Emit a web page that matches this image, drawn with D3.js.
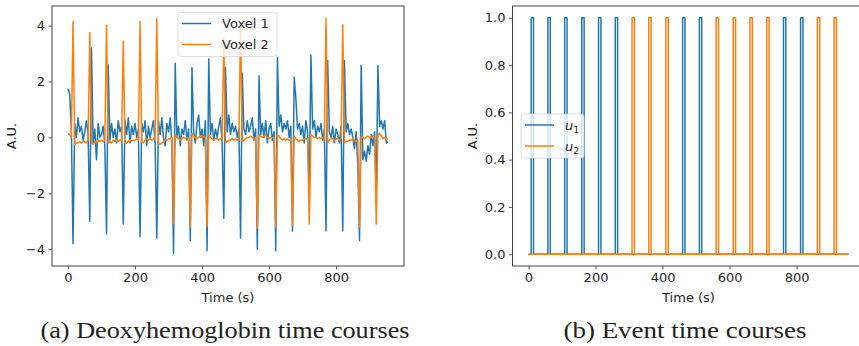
<!DOCTYPE html>
<html>
<head>
<meta charset="utf-8">
<script src="https://cdn.jsdelivr.net/npm/d3@7"></script>
<style>
  body { margin: 0; background: #fff; }
  svg text { font-family: "DejaVu Sans", sans-serif; fill: #262626; }
</style>
</head>
<body>
<svg id="fig" width="859" height="346"></svg>
<script>
// sampled every 5 s, t = 0 .. 955
const sampleStep = 5;
const voxel1 = [
  1.75, 1.55, 0.3, -3.8, 0.5, 0.0, 0.7, 0.2, 0.4, -0.1,
  0.2, 0.6, 0.1, -3.0, 3.2, -0.2, 0.3, -0.8, 0.5, 0.0,
  0.1, 0.4, -0.3, -3.45, 2.6, -0.1, 0.5, 0.0, 0.3, -0.2,
  0.6, 0.2, 0.4, -3.1, 0.6, 0.1, 0.7, -0.2, 0.4, 0.1,
  0.5, 0.0, 0.3, -3.55, 0.5, 0.2, 0.6, -0.3, 0.4, 0.0,
  0.3, 0.6, -0.2, -3.6, 0.6, 0.1, 0.7, 0.0, -0.3, 0.5,
  0.2, 0.7, -0.2, -4.15, 2.65, 0.0, 0.4, -0.3, 0.3, 0.1,
  0.6, -0.1, 0.3, -3.7, 2.5, 0.2, -0.2, 0.5, 0.8, 0.0,
  0.3, -0.3, 0.6, -4.05, 2.8, 0.1, 0.5, -0.1, 0.3, 0.0,
  0.4, 0.7, -0.2, -2.9, 2.5, 0.2, 0.8, 0.1, 0.5, 0.2,
  0.4, 0.0, 0.3, -3.6, 2.3, 0.3, 0.1, 0.6, 0.2, 0.4,
  0.7, -0.1, 0.3, -4.0, 2.2, 0.1, 0.5, 0.0, 0.6, -0.2,
  0.3, 0.5, -0.1, 0.2, -4.05, 2.85, 0.4, 0.8, 0.2, 0.5,
  0.3, 0.6, 0.0, 0.4, -3.35, 2.15, 1.4, 0.3, 0.5, 0.1,
  0.4, -0.2, 0.6, 0.2, -2.0, 2.95, 0.3, 0.6, 0.0, 0.4,
  0.2, 0.5, -0.1, 0.3, -3.35, 2.75, 0.2, 0.0, 0.4, -0.2,
  0.3, 0.1, -0.2, 0.4, -3.35, 2.75, 0.2, 0.5, 0.1, 0.3,
  0.0, -0.4, 0.2, -1.05, -3.7, 2.58, -0.8, -0.5, -0.85, -0.3,
  -0.6, 0.1, -0.3, 0.2, -2.0, 2.56, 0.4, 0.6, 0.3, 0.6,
  -0.2, -0.15
];
const voxel2 = [
  0.15, 0.1, 0.0, 4.15, -0.25, -0.2, -0.2, -0.15, -0.2, -0.15,
  -0.15, -0.2, -0.1, 3.75, -0.2, -0.25, -0.15, -0.2, -0.1, -0.15,
  -0.1, -0.15, -0.1, 4.0, -0.2, -0.15, -0.2, -0.1, -0.15, -0.1,
  -0.15, -0.1, -0.1, 3.45, -0.2, -0.2, -0.15, -0.1, -0.12, -0.1,
  -0.1, -0.05, -0.1, 4.15, -0.15, -0.2, -0.1, -0.05, -0.1, -0.05,
  -0.1, -0.05, -0.05, 4.25, -0.2, -0.25, -0.2, -0.15, -0.1, -0.1,
  -0.05, -0.05, 0.0, -3.1, 0.1, 0.05, -0.05, -0.1, -0.05, 0.0,
  -0.05, 0.0, -0.05, -3.2, 0.15, 0.05, 0.0, -0.05, 0.0, 0.05,
  0.0, 0.05, 0.0, -3.2, 0.1, 0.0, -0.05, -0.1, -0.05, -0.05,
  -0.1, -0.05, 0.0, 3.55, -0.2, -0.15, -0.1, -0.1, -0.05, -0.1,
  -0.05, -0.1, -0.05, 4.0, -0.15, -0.1, -0.05, 0.0, 0.0, 0.05,
  0.0, -0.05, 0.0, -3.25, 0.1, 0.05, 0.0, 0.05, 0.1, 0.0,
  -0.05, 0.0, 0.0, 0.0, -3.2, 0.1, 0.05, -0.05, -0.1, -0.05,
  -0.1, -0.05, -0.1, -0.1, -3.15, 0.05, -0.05, -0.1, -0.15, -0.1,
  -0.1, -0.05, -0.05, -0.05, -3.1, 0.1, 0.05, 0.0, 0.0, -0.05,
  0.0, -0.05, 0.0, -0.05, 4.25, -0.2, -0.1, -0.05, -0.05, -0.1,
  -0.05, -0.05, -0.1, -0.05, 4.03, -0.2, -0.15, -0.15, -0.1, -0.1,
  -0.05, -0.1, -0.15, -0.1, -3.2, 0.05, 0.0, -0.05, 0.0, 0.05,
  0.0, 0.0, 0.05, 0.0, -3.1, 0.1, 0.15, 0.05, -0.05, 0.0,
  -0.1, -0.05
];

// events: onset (s) and which input they belong to
const eventOnsets = [8, 58, 108, 159, 209, 259, 309, 359, 410, 460, 510, 560, 611, 661, 711, 761, 812, 862, 912];
const eventInput  = [1, 1, 1, 1, 1, 1, 2, 2, 2, 1, 1, 2, 2, 2, 2, 1, 1, 2, 2];
const eventDuration = 7;
const totalTime = 955;

const xTicks = [0, 200, 400, 600, 800];
const yTicksA = [-4, -2, 0, 2, 4];
const yTicksB = [0, 0.2, 0.4, 0.6, 0.8, 1.0];
const captions = ["(a) Deoxyhemoglobin time courses", "(b) Event time courses"];

const blue = "#1f77b4", orange = "#ff7f0e";
const frameColor = "#444";
const svg = d3.select("#fig");

const times = voxel1.map((d, i) => i * sampleStep);

// build a step trace (0/1) for one input from the event list
function eventTrace(input) {
  const pts = [[0, 0]];
  eventOnsets.forEach((on, i) => {
    if (eventInput[i] !== input) return;
    pts.push([on, 0], [on, 1], [on + eventDuration, 1], [on + eventDuration, 0]);
  });
  pts.push([totalTime, 0]);
  return pts;
}

function drawPanel(opts) {
  const g = svg.append("g");
  const x = d3.scaleLinear().domain([-47.75, 1002.75]).range([opts.left, opts.left + 352]);
  const y = d3.scaleLinear().domain(opts.yDomain).range([266, 6]);

  const clipId = "clip" + opts.id;
  svg.append("clipPath").attr("id", clipId)
    .append("rect").attr("x", opts.left).attr("y", 6).attr("width", 352).attr("height", 260);

  const line = d3.line().x(d => x(d[0])).y(d => y(d[1]));
  opts.series.forEach(s => {
    g.append("path")
      .attr("clip-path", `url(#${clipId})`)
      .attr("d", line(s.points))
      .attr("fill", "none")
      .attr("stroke", s.color)
      .attr("stroke-width", 1.5)
      .attr("stroke-linejoin", "round");
  });

  // x axis
  const xa = g.append("g").attr("transform", "translate(0,266)")
    .call(d3.axisBottom(x).tickValues(xTicks).tickSize(3.5).tickPadding(3.5));
  // y axis
  const ya = g.append("g").attr("transform", `translate(${opts.left},0)`)
    .call(d3.axisLeft(y).tickValues(opts.yTicks).tickFormat(opts.fmt).tickSize(3.5).tickPadding(3.5));
  [xa, ya].forEach(a => {
    a.select(".domain").remove();
    a.selectAll(".tick line").attr("stroke", frameColor).attr("stroke-width", 0.9);
    a.selectAll(".tick text").style("font-size", "13px").attr("fill", "#262626");
  });

  // frame
  g.append("rect")
    .attr("x", opts.left).attr("y", 6).attr("width", 352).attr("height", 260)
    .attr("fill", "none").attr("stroke", frameColor).attr("stroke-width", 1);

  // axis labels
  g.append("text")
    .attr("x", opts.left + 176).attr("y", 302)
    .attr("text-anchor", "middle").style("font-size", "13px")
    .text("Time (s)");
  g.append("text")
    .attr("transform", `translate(${opts.ylabelX},136) rotate(-90)`)
    .attr("text-anchor", "middle").style("font-size", "13px")
    .text("A.U.");

  // legend
  const lg = g.append("g").attr("transform", `translate(${opts.legend.x},${opts.legend.y})`);
  lg.append("rect")
    .attr("width", opts.legend.w).attr("height", 44).attr("rx", 3)
    .attr("fill", "#fff").attr("fill-opacity", 0.8)
    .attr("stroke", "#d5d5d5").attr("stroke-width", 0.8);
  opts.series.forEach((s, i) => {
    const yy = 11 + i * 21;
    lg.append("line")
      .attr("x1", 4).attr("x2", 33).attr("y1", yy).attr("y2", yy)
      .attr("stroke", s.color).attr("stroke-width", 1.5);
    const t = lg.append("text").attr("x", 44).attr("y", yy + 4.5).style("font-size", "13px");
    if (s.sub) {
      t.append("tspan").style("font-style", "italic").text(s.name);
      t.append("tspan").attr("dy", 3).style("font-size", "9.5px").text(s.sub);
    } else {
      t.text(s.name);
    }
  });

  // caption
  svg.append("text")
    .attr("x", opts.captionX).attr("y", 338)
    .attr("text-anchor", "middle")
    .attr("textLength", opts.captionW).attr("lengthAdjust", "spacingAndGlyphs")
    .style("font-family", "'Liberation Serif', 'DejaVu Serif', serif")
    .style("font-size", "23px").style("fill", "#222")
    .text(opts.caption);
}

drawPanel({
  id: "a", left: 52,
  yDomain: [-4.6, 4.7], yTicks: yTicksA, fmt: d3.format("d"),
  ylabelX: 16,
  series: [
    { name: "Voxel 1", color: blue, points: times.map((t, i) => [t, voxel1[i]]) },
    { name: "Voxel 2", color: orange, points: times.map((t, i) => [t, voxel2[i]]) }
  ],
  legend: { x: 178, y: 12.5, w: 99 },
  caption: captions[0], captionX: 225, captionW: 369
});

drawPanel({
  id: "b", left: 512.5,
  yDomain: [-0.05, 1.05], yTicks: yTicksB, fmt: d3.format(".1f"),
  ylabelX: 477,
  series: [
    { name: "u", sub: "1", color: blue, points: eventTrace(1) },
    { name: "u", sub: "2", color: orange, points: eventTrace(2) }
  ],
  legend: { x: 521, y: 114, w: 63 },
  caption: captions[1], captionX: 685, captionW: 243
});
</script>
</body>
</html>
